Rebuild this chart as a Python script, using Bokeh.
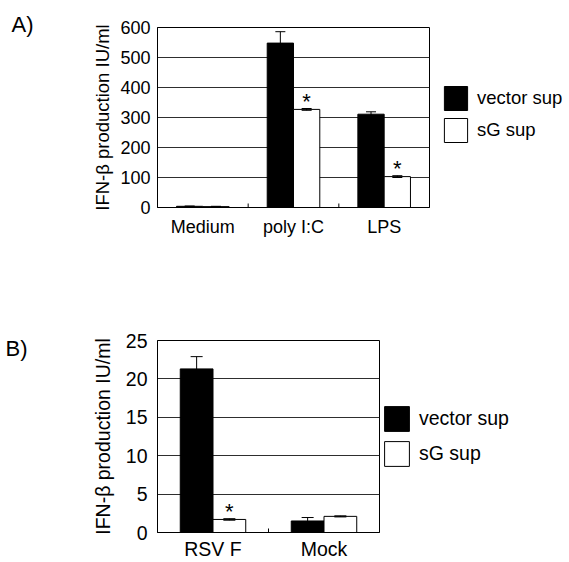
import math
from bokeh.plotting import figure
from bokeh.models import (ColumnDataSource, FactorRange, Range1d, FixedTicker, Whisker,
                          TeeHead, Legend, LegendItem, Title)
from bokeh.transform import dodge
from bokeh.layouts import column
from bokeh.embed import file_html
from bokeh.resources import INLINE
from bokeh.core.properties import value

FONT = "Liberation Sans"

# ---------------- data ----------------
cats_A = ["Medium", "poly I:C", "LPS"]
vector_A = [4, 548, 311]
vector_err_A = [1, 38, 8]
sg_A = [3, 327, 103]
sg_err_A = [1, 3, 3]
sig_A = [False, True, True]
yticks_A = [0, 100, 200, 300, 400, 500, 600]

cats_B = ["RSV F", "Mock"]
vector_B = [21.3, 1.5]
vector_err_B = [1.6, 0.45]
sg_B = [1.7, 2.1]
sg_err_B = [0.1, 0.07]
sig_B = [True, False]
yticks_B = [0, 5, 10, 15, 20, 25]

series_names = ["vector sup", "sG sup"]
ylabel = "IFN-\u03b2 production IU/ml"


def make_panel(cats, vec, vec_err, sg, sg_err, sig, yticks, panel_label, g):
    p = figure(x_range=FactorRange(factors=cats, range_padding=0),
               y_range=Range1d(yticks[0], yticks[-1]),
               frame_width=g["fw"], frame_height=g["fh"],
               min_border_left=g["bl"], min_border_right=g["br"],
               min_border_top=g["bt"], min_border_bottom=g["bb"],
               output_backend="svg", toolbar_location=None)
    p.outline_line_color = "black"
    p.outline_line_width = 1
    p.outline_line_alpha = 1

    src = ColumnDataSource(dict(
        cat=cats, vec=vec, sg=sg,
        vec_lo=[v - e for v, e in zip(vec, vec_err)],
        vec_hi=[v + e for v, e in zip(vec, vec_err)],
        sg_lo=[v - e for v, e in zip(sg, sg_err)],
        sg_hi=[v + e for v, e in zip(sg, sg_err)],
        star=["*" if s else "" for s in sig],
    ))
    bw = g["bw"]
    xv = dodge("cat", -bw / 2, range=p.x_range)
    xs = dodge("cat", bw / 2, range=p.x_range)
    r1 = p.vbar(x=xv, top="vec", width=bw, source=src,
                fill_color="black", line_color="black", line_width=1)
    r2 = p.vbar(x=xs, top="sg", width=bw, source=src,
                fill_color="white", line_color="black", line_width=1)

    for base, lo, hi in ((xv, "vec_lo", "vec_hi"), (xs, "sg_lo", "sg_hi")):
        w = Whisker(source=src, base=base, lower=lo, upper=hi, dimension="height",
                    line_color="black", line_width=1, level="overlay",
                    upper_head=TeeHead(size=g["cap"], line_color="black", line_width=1),
                    lower_head=TeeHead(size=g["cap"], line_color="black", line_width=1))
        p.add_layout(w)

    p.text(x=xs, y="sg_hi", text="star", source=src, text_align="center",
           text_baseline="alphabetic", text_font=value(FONT), y_offset=-7,
           text_font_size=g["star"], text_color="black")

    # small separator ticks between groups
    sep = ColumnDataSource(dict(cat=cats[:-1], y=[yticks[0]] * (len(cats) - 1)))
    p.scatter(x=dodge("cat", 0.5, range=p.x_range), y="y", source=sep,
              marker="dash", angle=math.pi / 2, size=8,
              line_color="black", line_width=1)

    # axes
    p.xgrid.visible = False
    p.ygrid.ticker = FixedTicker(ticks=yticks)
    p.ygrid.grid_line_color = "#2e2e2e"
    p.ygrid.grid_line_width = 1

    ya = p.yaxis[0]
    ya.ticker = FixedTicker(ticks=yticks)
    ya.major_tick_in = 0
    ya.major_tick_out = 0
    ya.minor_tick_in = 0
    ya.minor_tick_out = 0
    ya.axis_line_color = "black"
    ya.major_label_text_font = FONT
    ya.major_label_text_font_size = g["fs"]
    ya.major_label_text_color = "black"
    ya.major_label_standoff = g["ystand"]
    ya.axis_label = ylabel
    ya.axis_label_text_font = FONT
    ya.axis_label_text_font_style = "normal"
    ya.axis_label_text_font_size = g["lfs"]
    ya.axis_label_text_color = "black"
    ya.axis_label_standoff = g["lstand"]

    xa = p.xaxis[0]
    xa.major_tick_in = 0
    xa.major_tick_out = 0
    xa.axis_line_color = "black"
    xa.major_label_text_font = FONT
    xa.major_label_text_font_size = g["fs"]
    xa.major_label_text_color = "black"
    xa.major_label_standoff = g["xstand"]

    legend = Legend(items=[LegendItem(label=series_names[0], renderers=[r1]),
                           LegendItem(label=series_names[1], renderers=[r2])],
                    location=g["legloc"], orientation="vertical",
                    glyph_width=g["gw"], glyph_height=g["gh"], spacing=g["sp"],
                    label_standoff=7, padding=0, margin=0,
                    border_line_color=None, background_fill_alpha=0,
                    label_text_font=FONT, label_text_font_size=g["legfs"],
                    label_text_color="black", label_text_baseline="middle")
    p.add_layout(legend, "right")

    p.add_layout(Title(text=panel_label, align="left", offset=g["ploff"],
                       text_font=FONT, text_font_size="22px",
                       text_font_style="normal", text_color="black",
                       standoff=g["plstand"]), "above")
    return p


gA = dict(fw=272, fh=180, bl=157, br=140, bt=27, bb=51, bw=0.29, cap=10,
          star="22px", fs="18px", lfs="18.5px", ystand=7, xstand=9, lstand=4,
          legloc=(12, 62), gw=29, gh=30, sp=2, legfs="18.5px",
          ploff=-146, plstand=-18)
gB = dict(fw=222, fh=192, bl=151, br=196, bt=82, bb=20, bw=0.295, cap=12,
          star="22px", fs="19.5px", lfs="19.5px", ystand=10, xstand=5, lstand=9,
          legloc=(2, 63), gw=31, gh=31, sp=4, legfs="19.5px",
          ploff=-152, plstand=-40)

pA = make_panel(cats_A, vector_A, vector_err_A, sg_A, sg_err_A, sig_A, yticks_A, "A)", gA)
pB = make_panel(cats_B, vector_B, vector_err_B, sg_B, sg_err_B, sig_B, yticks_B, "B)", gB)

layout = column(pA, pB, spacing=0)
open("out.html", "w").write(file_html(layout, INLINE))
